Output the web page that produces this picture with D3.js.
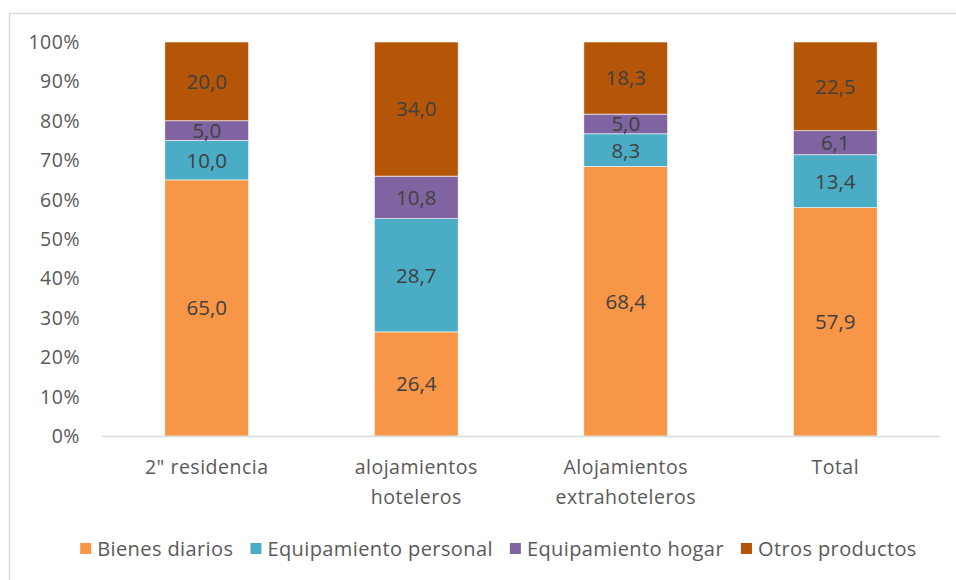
<!DOCTYPE html>
<html>
<head>
<meta charset="utf-8">
<script src="https://cdn.jsdelivr.net/npm/d3@7"></script>
<style>
  body { margin: 0; background: #fff; }
  text { font-family: "Open Sans", sans-serif; }
</style>
</head>
<body>
<div id="chart"></div>
<script>
const categories = [["2\" residencia"], ["alojamientos", "hoteleros"], ["Alojamientos", "extrahoteleros"], ["Total"]];
const seriesNames = ["Bienes diarios", "Equipamiento personal", "Equipamiento hogar", "Otros productos"];
const bienesDiarios = [65.0, 26.4, 68.4, 57.9];
const equipPersonal = [10.0, 28.7, 8.3, 13.4];
const equipHogar = [5.0, 10.8, 5.0, 6.1];
const otrosProductos = [20.0, 34.0, 18.3, 22.5];
const colors = ["#F79646", "#4BACC6", "#8064A2", "#B45508"];
const yTicks = [0, 0.1, 0.2, 0.3, 0.4, 0.5, 0.6, 0.7, 0.8, 0.9, 1.0];

const width = 956, height = 580;
const svg = d3.select("#chart").append("svg")
    .attr("width", width).attr("height", height);

// chart area border
svg.append("rect")
    .attr("x", 9.5).attr("y", 13.5)
    .attr("width", 960).attr("height", 600)
    .attr("fill", "none").attr("stroke", "#d9d9d9").attr("stroke-width", 1.5);

const series = [bienesDiarios, equipPersonal, equipHogar, otrosProductos];
const rows = categories.map((c, i) => {
    const r = { key: i };
    series.forEach((s, j) => r[j] = s[i]);
    return r;
});
const stack = d3.stack().keys([0, 1, 2, 3]).offset(d3.stackOffsetExpand);
const stacked = stack(rows);

const x = d3.scaleBand().domain(d3.range(categories.length))
    .range([102, 940]).paddingInner(0.6).paddingOuter(0.3);
const y = d3.scaleLinear().domain([0, 1]).range([436, 42]);

// y axis labels
svg.append("g").selectAll("text")
    .data(yTicks).enter().append("text")
    .attr("x", 80).attr("y", d => y(d))
    .attr("dy", "0.36em")
    .attr("text-anchor", "end")
    .style("font-size", "19.5px").style("letter-spacing", "0.5px").style("fill", "#595959")
    .text(d => d3.format(".0%")(d));

// bars
const layer = svg.append("g").selectAll("g")
    .data(stacked).enter().append("g")
    .attr("fill", (d, i) => colors[i]);

layer.selectAll("rect")
    .data(d => d).enter().append("rect")
    .attr("x", (d, i) => x(i))
    .attr("y", d => y(d[1]))
    .attr("width", x.bandwidth())
    .attr("height", d => y(d[0]) - y(d[1]))
    .attr("stroke", "#fff").attr("stroke-width", 0.6);

// value labels
layer.selectAll("text")
    .data((d, j) => d.map((v, i) => ({ v, i, val: series[j][i] })))
    .enter().append("text")
    .attr("x", d => x(d.i) + x.bandwidth() / 2)
    .attr("y", d => (y(d.v[0]) + y(d.v[1])) / 2)
    .attr("dy", "0.36em")
    .attr("text-anchor", "middle")
    .style("font-size", "20.5px").style("fill", "#404040")
    .text(d => d3.format(".1f")(d.val).replace(".", ","));

// x axis line
svg.append("line")
    .attr("x1", 102).attr("x2", 940)
    .attr("y1", y(0) + 0.5).attr("y2", y(0) + 0.5)
    .attr("stroke", "#d9d9d9").attr("stroke-width", 1.5);

// x labels
const xl = svg.append("g").selectAll("text")
    .data(categories).enter().append("text")
    .attr("x", (d, i) => x(i) + x.bandwidth() / 2)
    .attr("y", 474)
    .attr("text-anchor", "middle")
    .style("font-size", "19.5px").style("letter-spacing", "0.5px").style("fill", "#595959");
xl.selectAll("tspan").data(d => d).enter().append("tspan")
    .attr("x", function() { return d3.select(this.parentNode).attr("x"); })
    .attr("dy", (d, i) => i === 0 ? 0 : 30)
    .text(d => d);

// legend
const legend = svg.append("g");
const items = legend.selectAll("g").data(seriesNames).enter().append("g");
items.append("rect")
    .attr("width", 11).attr("height", 11)
    .attr("y", -6)
    .attr("fill", (d, i) => colors[i]);
items.append("text")
    .attr("x", 17).attr("dy", "0.36em")
    .style("font-size", "20px").style("letter-spacing", "0.4px").style("fill", "#595959")
    .text(d => d);
let offset = 0;
items.each(function() {
    d3.select(this).attr("transform", `translate(${offset},0)`);
    offset += 17 + this.querySelector("text").getComputedTextLength() + 17;
});
const legendWidth = offset - 17;
legend.attr("transform", `translate(${(73 + 924) / 2 - legendWidth / 2},549)`);
</script>
</body>
</html>
